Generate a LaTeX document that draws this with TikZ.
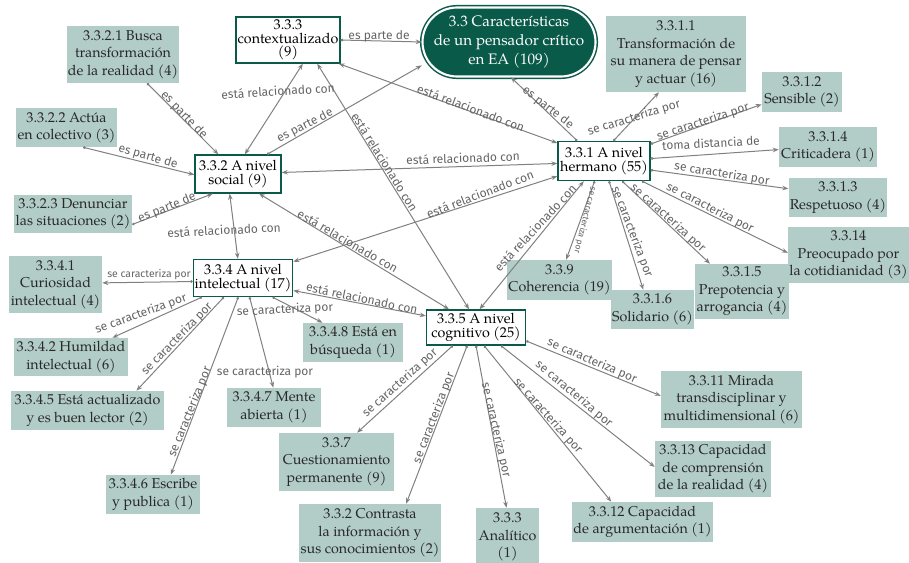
\documentclass[tikz,border=0pt]{standalone}
\usepackage{fontspec}
\setmainfont{TeX Gyre Pagella}
\newfontfamily\lblfont{Fira Sans}
\usetikzlibrary{arrows.meta}

\definecolor{leaffill}{RGB}{178,204,200}
\definecolor{leaftext}{RGB}{40,40,40}
\definecolor{deepgreen}{RGB}{10,90,74}
\definecolor{edgegray}{RGB}{128,128,128}
\definecolor{lblgray}{RGB}{100,100,100}

\begin{document}
\begin{tikzpicture}[x=0.75pt,y=-0.75pt,
  sz/.style 2 args={minimum width=#1*0.75pt,minimum height=#2*0.75pt},
  leaf/.style={fill=leaffill,text=leaftext,align=center,inner sep=1pt,
    font=\fontsize{10.7}{13.1}\selectfont},
  level/.style={draw=deepgreen,line width=1pt,fill=white,text=black,align=center,
    inner sep=1pt,font=\fontsize{10.7}{10}\selectfont},
  root/.style={fill=deepgreen,draw=deepgreen,double=white,double distance=1.6pt,
    line width=1.1pt,rounded corners=25.9pt,text=white,align=center,
    font=\fontsize{11.4}{13.9}\selectfont},
  tip/.tip={Stealth[length=4.5pt,width=3.4pt]},
  link/.style={draw=edgegray,line width=0.75pt,{Circle[length=2pt]}-tip},
  rel/.style={draw=edgegray,line width=0.75pt,tip-tip},
  lbl/.style={font=\lblfont\fontsize{9}{10}\selectfont,text=lblgray,inner sep=0pt},
  lblsm/.style={font=\lblfont\fontsize{7.8}{9}\selectfont,text=lblgray,inner sep=0pt},
  lblxs/.style={font=\lblfont\fontsize{6.4}{7}\selectfont,text=lblgray,inner sep=0pt}]
\useasboundingbox (0,0) rectangle (909,563);

% central concept
\node[root,sz={173}{69}] (n33) at (509,42) {3.3 Características\\de un pensador crítico\\en EA (109)};

% level boxes
\node[level,sz={104}{46}] (n333) at (288,40) {3.3.3\\contextualizado\\(9)};
\node[level,sz={92}{39}] (n331) at (604,161) {3.3.1 A nivel\\hermano (55)};
\node[level,sz={86}{38}] (n332) at (238,174) {3.3.2 A nivel\\social (9)};
\node[level,sz={99}{37}] (n334) at (243,278) {3.3.4 A nivel\\intelectual (17)};
\node[level,sz={99}{35}] (n335) at (476,327.5) {3.3.5 A nivel\\cognitivo (25)};

% social
\node[leaf,sz={112}{57}] (n3321) at (123,54.5) {3.3.2.1 Busca\\transformación\\de la realidad (4)};
\node[leaf,sz={101}{39}] (n3322) at (66.5,127.5) {3.3.2.2 Actúa\\en colectivo (3)};
\node[leaf,sz={118}{38}] (n3323) at (73,214) {3.3.2.3 Denunciar\\las situaciones (2)};

% intelectual
\node[leaf,sz={93}{57}] (n3341) at (55.5,284.5) {3.3.4.1\\Curiosidad\\intelectual (4)};
\node[leaf,sz={114}{38}] (n3342) at (71,357) {3.3.4.2 Humildad\\intelectual (6)};
\node[leaf,sz={153}{39}] (n3345) at (87.5,410.5) {3.3.4.5 Está actualizado\\y es buen lector (2)};
\node[leaf,sz={94}{39}] (n3346) at (153,494.5) {3.3.4.6 Escribe\\y publica (1)};
\node[leaf,sz={94}{39}] (n3347) at (274,407.5) {3.3.4.7 Mente\\abierta (1)};
\node[leaf,sz={100}{39}] (n3348) at (353,342.5) {3.3.4.8 Está en\\búsqueda (1)};

% cognitivo
\node[leaf,sz={115}{58}] (n337) at (336.5,462) {3.3.7\\Cuestionamiento\\permanente (9)};
\node[leaf,sz={142}{58}] (n332c) at (370,533) {3.3.2 Contrasta\\la información y\\sus conocimientos (2)};
\node[leaf,sz={63}{58}] (n3333) at (507.5,537) {3.3.3\\Analítico\\(1)};
\node[leaf,sz={141}{40}] (n33112) at (642.5,522) {3.3.12 Capacidad\\de argumentación (1)};
\node[leaf,sz={116}{56}] (n33113) at (713,469) {3.3.13 Capacidad\\de comprensión\\de la realidad (4)};
\node[leaf,sz={141}{57}] (n33111) at (731.5,399.5) {3.3.11 Mirada\\transdisciplinar y\\multidimensional (6)};

% hermano
\node[leaf,sz={105}{40}] (n339) at (559.5,280) {3.3.9\\Coherencia (19)};
\node[leaf,sz={83}{39}] (n3316) at (652.5,309.5) {3.3.1.6\\Solidario (6)};
\node[leaf,sz={92}{55}] (n3315) at (742,291.5) {3.3.1.5\\Prepotencia y\\arrogancia (4)};
\node[leaf,sz={119}{56}] (n3314p) at (848.5,255) {3.3.14\\Preocupado por\\la cotidianidad (3)};
\node[leaf,sz={98}{39}] (n3313) at (838,197.5) {3.3.1.3\\Respetuoso (4)};
\node[leaf,sz={98}{40}] (n3314) at (828,147) {3.3.1.4\\Criticadera (1)};
\node[leaf,sz={80}{40}] (n3312) at (802,92) {3.3.1.2\\Sensible (2)};
\node[leaf,sz={140}{76}] (n3311) at (676,54) {3.3.1.1\\Transformación de\\su manera de pensar\\y actuar (16)};

% part-of links
\draw[link] (n333.east) -- (n33.west);
\draw[link] (n332.34.6) -- (n33.195.5);
\draw[link] (n331.143.8) -- (n33.273);
\draw[link] (n3321.-50.7) -- (n332.135);
\draw[link] (n3322.-50.6) -- (n332.181.2);
\draw[link] (n3323.-10.8) -- (n332.218);

% mutual relations
\draw[rel] (n332.71.6) -- (n333.302.7);
\draw[rel] (n333.-25.3) -- (n331.159.8);
\draw[rel] (n333.-39.5) -- (n335.111.8);
\draw[rel] (n332.2.4) -- (n331.183.3);
\draw[rel] (n334.18.4) -- (n331.198.1);
\draw[rel] (n332.-43.7) -- (n335.146.5);
\draw[rel] (n334.-14.3) -- (n335.167.4);
\draw[rel] (n332.247.2) -- (n334.105.9);
\draw[rel] (n331.225) -- (n335.79.9);

% hermano traits
\draw[link] (n331.65.8) -- (n3311.246.3);
\draw[link] (n331.20.2) -- (n3312.197.7);
\draw[link] (n331.3.4) -- (n3314.183.1);
\draw[link] (n331.-11.5) -- (n3313.170.5);
\draw[link] (n331.-28.2) -- (n3314p.178.1);
\draw[link] (n331.-48.8) -- (n3315.139.2);
\draw[link] (n331.-76) -- (n3316.115);
\draw[link] (n331.245.4) -- (n339.72.5);

% intelectual traits
\draw[link] (n334.184.6) -- (n3341.2.7);
\draw[link] (n334.205) -- (n3342.25.1);
\draw[link] (n334.225) -- (n3345.22.1);
\draw[link] (n334.256.6) -- (n3346.48.5);
\draw[link] (n334.289.3) -- (n3347.92.5);
\draw[link] (n334.-33.7) -- (n3348.147.3);

% cognitivo traits
\draw[link] (n335.-15.5) -- (n33111.177.4);
\draw[link] (n335.-36) -- (n33113.178.2);
\draw[link] (n335.-66) -- (n33112.147);
\draw[link] (n335.270) -- (n3333.92.7);
\draw[link] (n335.244) -- (n332c.39.5);
\draw[link] (n335.218.8) -- (n337.55);

% connector labels
\node[lbl] (la) at (379,36) {es parte de};
\node[lbl,rotate=27] (lb) at (305,126) {es parte de};
\node[lbl,rotate=-38] (lc) at (548,108) {es parte de};
\node[lbl,rotate=-46] (le1) at (184,115) {es parte de};
\node[lbl,rotate=-16] (le2) at (148,157) {es parte de};
\node[lbl,rotate=22] (le3) at (167,208) {es parte de};

\node[lbl,rotate=3.5] (ld) at (278,91) {está relacionado con};
\node[lbl,rotate=-20.5] (le) at (471,108) {está relacionado con};
\node[lbl,rotate=-58] (lf) at (385,162) {está relacionado con};
\node[lbl,rotate=2] (lg) at (463,158) {está relacionado con};
\node[lbl,rotate=21] (lh) at (480,194) {está relacionado con};
\node[lbl,rotate=-30] (li) at (348,241) {está relacionado con};
\node[lbl,rotate=-12] (lj) at (362,298) {está relacionado con};
\node[lbl,rotate=3] (lk) at (224,230) {está relacionado con};
\node[lbl,rotate=47] (ll) at (535,228) {está relacionado con};

\node[lbl,rotate=17] (lm) at (634,118) {se caracteriza por};
\node[lbl,rotate=18] (ln) at (703,122) {se caracteriza por};
\node[lbl,rotate=3] (lo) at (711,143) {toma distancia de};
\node[lbl,rotate=-9] (lp) at (722,174) {se caracteriza por};
\node[lbl,rotate=-27] (lq) at (710,208) {se caracteriza por};
\node[lbl,rotate=-42] (lr) at (668,218) {se caracteriza por};
\node[lbl,rotate=-69] (ls) at (632,232) {se caracteriza por};
\node[lblxs,rotate=-104] (lt) at (585,220) {se caracteriza por};

\node[lblsm] (lu) at (149,275) {se caracteriza por};
\node[lbl,rotate=20] (lv) at (141,314) {se caracteriza por};
\node[lbl,rotate=46] (lw) at (177,339) {se caracteriza por};
\node[lbl,rotate=68] (lx) at (190,412) {se caracteriza por};
\node[lbl] (ly) at (265,372) {se caracteriza por};
\node[lbl,rotate=3] (lz) at (285,310) {se caracteriza por};

\node[lbl,rotate=-23.5] (laa) at (592,361) {se caracteriza por};
\node[lbl,rotate=-40] (lbb) at (574,394) {se caracteriza por};
\node[lbl,rotate=-48] (lcc) at (548,416) {se caracteriza por};
\node[lbl,rotate=-77] (ldd) at (496,430) {se caracteriza por};
\node[lbl,rotate=69] (lee) at (434,418) {se caracteriza por};
\node[lbl,rotate=42] (lff) at (400,383) {se caracteriza por};
\end{tikzpicture}
\end{document}
